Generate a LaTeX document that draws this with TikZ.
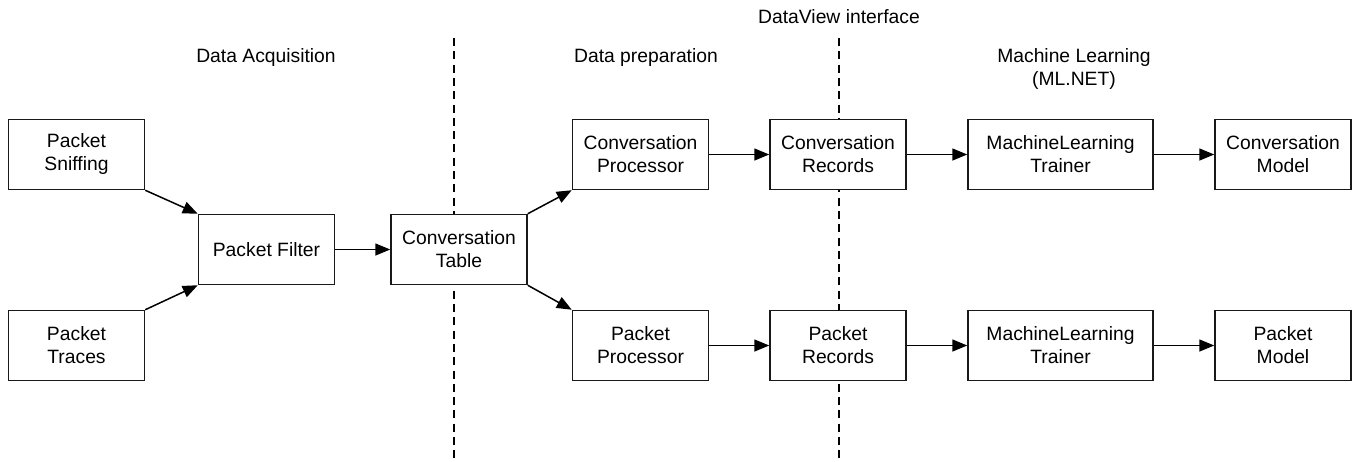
\documentclass[tikz,border=0pt]{standalone}
\usepackage{fontspec}
\setmainfont{Liberation Sans}
\usetikzlibrary{arrows.meta}
\begin{document}
\begin{tikzpicture}[x=1pt,y=-1pt,
  font=\fontsize{19.3pt}{23pt}\selectfont,
  box/.style={draw=black!90,line width=1.5pt,fill=white,rectangle,minimum width=136pt,minimum height=70pt,inner sep=0pt,align=center},
  wbox/.style={box,minimum width=185pt},
  conn/.style={line width=1.5pt,-{Triangle[length=15pt,width=12pt]}},
  divider/.style={line width=1.3pt,dash pattern=on 8pt off 5.3pt},
  lab/.style={align=center,inner sep=0pt}]
\useasboundingbox (0,0) rectangle (1353,461);
% dividers
\coordinate (d1t) at (454,38);
\coordinate (d1b) at (454,461);
\coordinate (d2t) at (839,38);
\coordinate (d2b) at (839,461);
\draw[divider] (d1t) -- (d1b);
\draw[divider] (d2t) -- (d2b);
% labels
\node[lab] (l1) at (266,58) {Data Acquisition};
\node[lab] (l2) at (646,58) {Data preparation};
\node[lab] (l3) at (839,17) {DataView interface};
\node[lab] (l4) at (1074,69.5) {Machine Learning\\(ML.NET)};
% nodes
\node[box] (sniff) at (76.5,154.5) {Packet\\Sniffing};
\node[box] (traces) at (76.5,345.5) {Packet\\Traces};
\node[box] (filter) at (266.5,249.5) {Packet Filter};
\node[box] (table) at (459,249.5) {Conversation\\Table};
\node[box] (cproc) at (640.5,154.5) {Conversation\\Processor};
\node[box] (pproc) at (640.5,345.5) {Packet\\Processor};
\node[box] (crec) at (838,154.5) {Conversation\\Records};
\node[box] (prec) at (838,345.5) {Packet\\Records};
\node[wbox] (ctrain) at (1060.5,154.5) {MachineLearning\\Trainer};
\node[wbox] (ptrain) at (1060.5,345.5) {MachineLearning\\Trainer};
\node[box] (cmodel) at (1283,154.5) {Conversation\\Model};
\node[box] (pmodel) at (1283,345.5) {Packet\\Model};
% connectors
\draw[conn] (sniff.south east) -- (filter.north west);
\draw[conn] (traces.north east) -- (filter.south west);
\draw[conn] (filter) -- (table);
\draw[conn] (table.north east) -- (cproc.south west);
\draw[conn] (table.south east) -- (pproc.north west);
\draw[conn] (cproc) -- (crec);
\draw[conn] (pproc) -- (prec);
\draw[conn] (crec) -- (ctrain);
\draw[conn] (prec) -- (ptrain);
\draw[conn] (ctrain) -- (cmodel);
\draw[conn] (ptrain) -- (pmodel);
\end{tikzpicture}
\end{document}
